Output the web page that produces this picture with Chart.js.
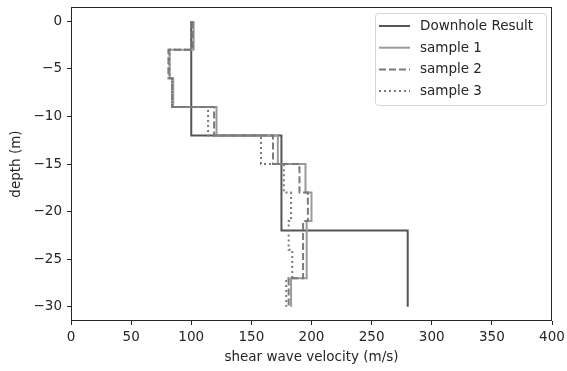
<!DOCTYPE html>
<html>
<head>
<meta charset="utf-8">
<script src="https://cdn.jsdelivr.net/npm/chart.js@4.4.0/dist/chart.umd.min.js"></script>
<style>
    html, body { margin: 0; padding: 0; background: #fff; }
    #wrap { width: 567px; height: 371px; }
</style>
</head>
<body>
<div id="wrap"><canvas id="vsChart" width="567" height="371"></canvas></div>
<script>
// 深度分層 (m) 與剪力波速 (m/s)
const downholeDepths = [0, -12, -22, -30];
const downholeVs = [100, 175, 280];

const sampleDepths = [0, -3, -6, -9, -12, -15, -18, -21, -24, -27, -30];
const sample1Vs = [102, 82, 85, 121, 172, 195, 200, 196, 196, 183];
const sample2Vs = [101, 81, 84, 119, 168, 190, 197, 193, 193, 181];
const sample3Vs = [101, 82, 84, 114, 158, 177, 183, 181, 184, 179];

const seriesLabels = ['Downhole Result', 'sample 1', 'sample 2', 'sample 3'];
const xTickValues = [0, 50, 100, 150, 200, 250, 300, 350, 400];
const yTickValues = [0, -5, -10, -15, -20, -25, -30];

const FONT = 'DejaVu Sans';
const FS = 13.5;

// 把分層資料轉成階梯線的點
function stepPoints(depths, vs) {
    const pts = [];
    for (let i = 0; i < vs.length; i++) {
        pts.push({ x: vs[i], y: depths[i] });
        pts.push({ x: vs[i], y: depths[i + 1] });
    }
    return pts;
}

function fmt(v) {
    return v < 0 ? '\u2212' + Math.abs(v) : String(v);
}

// 外框
const frameBox = {
    id: 'frameBox',
    afterDatasetsDraw(chart) {
        const { ctx, chartArea: a } = chart;
        ctx.save();
        ctx.strokeStyle = '#262626';
        ctx.lineWidth = 1;
        ctx.strokeRect(Math.round(a.left) + 0.5, Math.round(a.top) + 0.5,
            Math.round(a.right - a.left) - 1, Math.round(a.bottom - a.top) - 1);
        ctx.restore();
    }
};

// 圖例 (matplotlib 風格)
const boxLegend = {
    id: 'boxLegend',
    afterDraw(chart) {
        const { ctx } = chart;
        const x0 = 375.5, y0 = 13.5, w = 171, h = 92;
        ctx.save();
        ctx.beginPath();
        ctx.roundRect(x0, y0, w, h, 3);
        ctx.fillStyle = 'rgba(255,255,255,0.8)';
        ctx.fill();
        ctx.strokeStyle = '#d6d6d6';
        ctx.lineWidth = 1;
        ctx.stroke();
        chart.data.datasets.forEach((ds, i) => {
            const y = 26 + i * 21.7;
            ctx.beginPath();
            ctx.setLineDash(ds.borderDash || []);
            ctx.strokeStyle = ds.borderColor;
            ctx.lineWidth = ds.borderWidth;
            ctx.moveTo(379, y);
            ctx.lineTo(410, y);
            ctx.stroke();
            ctx.setLineDash([]);
            ctx.fillStyle = '#262626';
            ctx.font = FS + 'px "' + FONT + '"';
            ctx.textBaseline = 'middle';
            ctx.textAlign = 'left';
            ctx.fillText(ds.label, 420, y + 0.5);
        });
        ctx.restore();
    }
};

const ctx = document.getElementById('vsChart').getContext('2d');
new Chart(ctx, {
    type: 'scatter',
    data: {
        datasets: [
            {
                label: seriesLabels[0],
                data: stepPoints(downholeDepths, downholeVs),
                borderColor: '#555555',
                borderWidth: 2,
                order: 4
            },
            {
                label: seriesLabels[1],
                data: stepPoints(sampleDepths, sample1Vs),
                borderColor: '#9a9a9a',
                borderWidth: 2,
                order: 3
            },
            {
                label: seriesLabels[2],
                data: stepPoints(sampleDepths, sample2Vs),
                borderColor: '#7a7a7a',
                borderWidth: 2,
                borderDash: [7, 3],
                order: 2
            },
            {
                label: seriesLabels[3],
                data: stepPoints(sampleDepths, sample3Vs),
                borderColor: '#7a7a7a',
                borderWidth: 2,
                borderDash: [2, 3],
                order: 1
            }
        ].map(ds => Object.assign(ds, {
            showLine: true,
            pointRadius: 0,
            pointHoverRadius: 0,
            tension: 0,
            fill: false,
            borderCapStyle: 'butt',
            borderJoinStyle: 'miter'
        }))
    },
    options: {
        responsive: false,
        animation: false,
        layout: { padding: { top: 7, right: 15, left: 0, bottom: 0 } },
        plugins: {
            legend: { display: false },
            tooltip: { enabled: false }
        },
        scales: {
            x: {
                type: 'linear',
                min: 0,
                max: 400,
                afterBuildTicks(axis) { axis.ticks = xTickValues.map(v => ({ value: v })); },
                afterFit(axis) {
                    axis.height = 50;
                    axis.paddingLeft = 0;
                    axis.paddingRight = 0;
                },
                ticks: {
                    color: '#262626',
                    font: { family: FONT, size: FS },
                    padding: 4,
                    maxRotation: 0,
                    callback: v => fmt(v)
                },
                grid: { drawOnChartArea: false, drawTicks: true, tickLength: 4, color: '#262626' },
                border: { display: false },
                title: {
                    display: true,
                    text: 'shear wave velocity (m/s)',
                    color: '#262626',
                    font: { family: FONT, size: FS },
                    padding: { top: 0, bottom: 5 }
                }
            },
            y: {
                type: 'linear',
                min: -31.5,
                max: 1.5,
                afterBuildTicks(axis) { axis.ticks = yTickValues.map(v => ({ value: v })); },
                afterFit(axis) {
                    axis.width = 71;
                    axis.paddingTop = 0;
                    axis.paddingBottom = 0;
                },
                ticks: {
                    color: '#262626',
                    font: { family: FONT, size: FS },
                    padding: 5,
                    callback: v => fmt(v)
                },
                grid: { drawOnChartArea: false, drawTicks: true, tickLength: 4, color: '#262626' },
                border: { display: false },
                title: {
                    display: true,
                    text: 'depth (m)',
                    color: '#262626',
                    font: { family: FONT, size: FS },
                    padding: { top: 8, bottom: 0 }
                }
            }
        }
    },
    plugins: [frameBox, boxLegend]
});
</script>
</body>
</html>
